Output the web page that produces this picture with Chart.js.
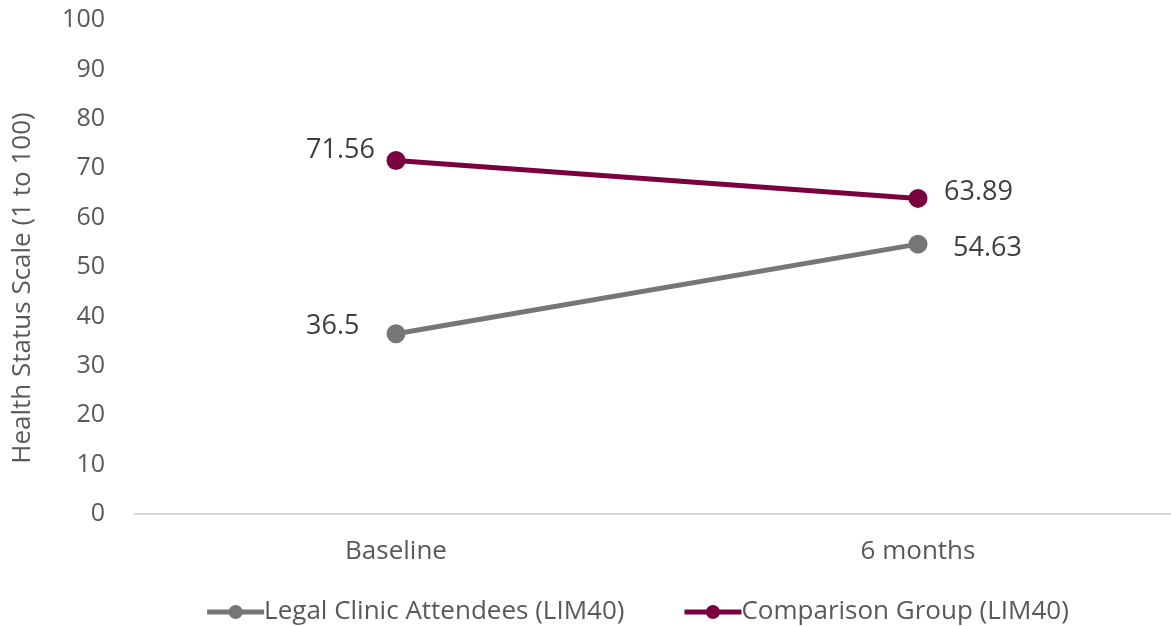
<!DOCTYPE html>
<html>
<head>
<meta charset="utf-8">
<script src="https://cdn.jsdelivr.net/npm/chart.js@4"></script>
<style>
  html, body { margin: 0; padding: 0; background: #fff; overflow: hidden; }
  #wrap { width: 1179px; height: 626px; }
</style>
</head>
<body>
<div id="wrap"><canvas id="healthChart"></canvas></div>
<script>
var categories = ['Baseline', '6 months'];
var legalClinic = [36.5, 54.63];
var comparisonGroup = [71.56, 63.89];
var seriesNames = ['Legal Clinic Attendees (LIM40)', 'Comparison Group (LIM40)'];
var yTicks = [0, 10, 20, 30, 40, 50, 60, 70, 80, 90, 100];
var yTitle = 'Health Status Scale (1 to 100)';

var grey = '#767676';
var maroon = '#7a0040';
var fontFamily = 'Open Sans, Lato, sans-serif';

// label placement per dataset / point: [dx, dy, align]
var labelPlacement = [
    [[-90, -7, 'left'], [35, 4, 'left']],
    [[-90, -10, 'left'], [26, -6, 'left']]
];

var valueLabels = {
    id: 'valueLabels',
    afterDatasetsDraw: function(chart) {
        var ctx = chart.ctx;
        ctx.save();
        ctx.font = '27px ' + fontFamily;
        ctx.fillStyle = '#404040';
        ctx.textBaseline = 'middle';
        chart.data.datasets.forEach(function(ds, i) {
            var meta = chart.getDatasetMeta(i);
            meta.data.forEach(function(pt, j) {
                var p = labelPlacement[i][j];
                ctx.textAlign = p[2];
                ctx.fillText(String(ds.data[j]), pt.x + p[0], pt.y + p[1]);
            });
        });
        ctx.restore();
    }
};

// axis title drawn by hand, Excel centres it a bit lower than the plot
var axisTitle = {
    id: 'axisTitle',
    afterDraw: function(chart) {
        var ctx = chart.ctx;
        ctx.save();
        ctx.translate(23, 288);
        ctx.rotate(-Math.PI / 2);
        ctx.font = '26px ' + fontFamily;
        ctx.fillStyle = '#595959';
        ctx.textAlign = 'center';
        ctx.textBaseline = 'middle';
        ctx.fillText(yTitle, 0, 0);
        ctx.restore();
    }
};

// legend drawn by hand so the marker touches the text like the original
var bottomLegend = {
    id: 'bottomLegend',
    afterDraw: function(chart) {
        var ctx = chart.ctx;
        var y = 612;
        var markerW = 57;
        var gap = 60;
        ctx.save();
        ctx.font = '26px ' + fontFamily;
        var widths = chart.data.datasets.map(function(ds) {
            return markerW + ctx.measureText(ds.label).width;
        });
        var total = widths.reduce(function(a, b) { return a + b; }, 0) + gap * (widths.length - 1);
        var x = 638 - total / 2;
        chart.data.datasets.forEach(function(ds, i) {
            ctx.strokeStyle = ds.borderColor;
            ctx.fillStyle = ds.borderColor;
            ctx.lineWidth = 5;
            ctx.beginPath();
            ctx.moveTo(x, y);
            ctx.lineTo(x + markerW, y);
            ctx.stroke();
            ctx.beginPath();
            ctx.arc(x + markerW / 2, y, 7, 0, Math.PI * 2);
            ctx.fill();
            ctx.fillStyle = '#595959';
            ctx.textAlign = 'left';
            ctx.textBaseline = 'middle';
            ctx.fillText(ds.label, x + markerW, y);
            x += widths[i] + gap;
        });
        ctx.restore();
    }
};

const ctx = document.getElementById('healthChart');
new Chart(ctx, {
    type: 'line',
    data: {
        labels: categories,
        datasets: [{
            label: seriesNames[0],
            data: legalClinic,
            borderColor: grey,
            backgroundColor: grey,
            borderWidth: 5,
            pointRadius: 7,
            pointHoverRadius: 7
        }, {
            label: seriesNames[1],
            data: comparisonGroup,
            borderColor: maroon,
            backgroundColor: maroon,
            borderWidth: 5,
            pointRadius: 7,
            pointHoverRadius: 7
        }]
    },
    options: {
        responsive: true,
        maintainAspectRatio: false,
        animation: false,
        layout: { autoPadding: false, padding: { top: 20, right: 0, bottom: 45, left: 0 } },
        plugins: {
            legend: { display: false },
            tooltip: { enabled: false }
        },
        scales: {
            x: {
                offset: true,
                afterFit: function(axis) {
                    axis.height = 67;
                    axis.paddingLeft = 0;
                    axis.paddingRight = 0;
                },
                grid: { display: false, drawTicks: false },
                border: { display: true, color: '#d9d9d9', width: 2 },
                ticks: {
                    color: '#595959',
                    font: { family: fontFamily, size: 26 },
                    padding: 22
                }
            },
            y: {
                min: 0,
                max: 100,
                afterBuildTicks: function(axis) {
                    axis.ticks = yTicks.map(function(v) { return { value: v }; });
                },
                afterFit: function(axis) {
                    axis.width = 135;
                    axis.paddingTop = 0;
                    axis.paddingBottom = 0;
                },
                grid: { display: false, drawTicks: false },
                border: { display: false },
                ticks: {
                    color: '#595959',
                    font: { family: fontFamily, size: 25 },
                    padding: 30
                }
            }
        }
    },
    plugins: [valueLabels, axisTitle, bottomLegend]
});
</script>
</body>
</html>
